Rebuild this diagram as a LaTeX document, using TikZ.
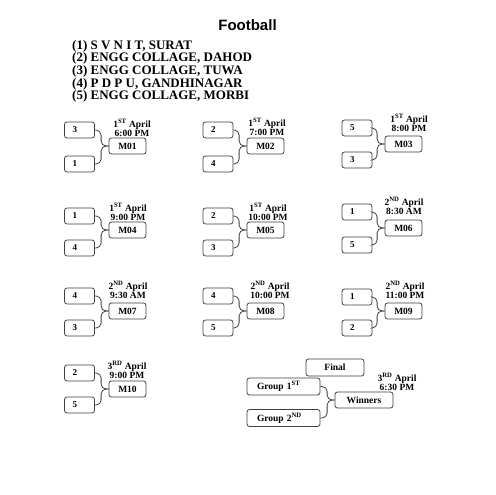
\documentclass[tikz,border=0pt]{standalone}
\usepackage{fontspec}
\setmainfont{Liberation Serif}
\newfontfamily\titlefont{Liberation Sans}
\usetikzlibrary{calc}
\begin{document}
\begin{tikzpicture}[x=1pt,y=-1pt,
  box/.style={draw=black!75, line width=0.8pt, rounded corners=2.5pt, minimum height=16pt, inner ysep=0pt},
  team/.style={box, inner xsep=8pt, text width=14pt, align=left, font=\fontsize{9}{10}\selectfont\bfseries},
  match/.style={box, inner xsep=0pt, minimum width=37pt, font=\fontsize{9.5}{10}\selectfont\bfseries},
  grpbox/.style={box, minimum height=17pt, inner xsep=10pt, text width=53pt, align=left, font=\fontsize{9.5}{10}\selectfont\bfseries},
  finalbox/.style={box, minimum height=17pt, inner xsep=0pt, minimum width=58pt, font=\fontsize{9.5}{10}\selectfont\bfseries},
  date/.style={inner sep=0pt, align=center, font=\fontsize{9.5}{9}\selectfont\bfseries},
  conn/.style={draw=black!75, line width=0.8pt, rounded corners=5pt},
  teamline/.style={anchor=base west, inner sep=0pt, font=\fontsize{13}{13}\selectfont\bfseries}]
\fill[white] (0,0) rectangle (495,495);
\useasboundingbox (0,0) rectangle (495,495);
\node[font=\titlefont\fontsize{15}{15}\selectfont\bfseries] (title) at (247.5,25) {Football};
\node[teamline] (t1) at (72,49) {(1) S V N I T, SURAT};
\node[teamline] (t2) at (72,62) {(2) ENGG COLLAGE, DAHOD};
\node[teamline] (t3) at (72,74.5) {(3) ENGG COLLAGE, TUWA};
\node[teamline] (t4) at (72,87) {(4) P D P U, GANDHINAGAR};
\node[teamline] (t5) at (72,99.5) {(5) ENGG COLLAGE, MORBI};
\foreach \tx/\mx/\ya/\yb/\ym/\ta/\tb/\n/\dx/\dy/\dd/\ds/\dt in {
 79.5/127.5/130/164/146/3/1/01/132/127.5/1/ST/6:00 PM,
 218/265.5/130/164/146/2/4/02/267/127/1/ST/7:00 PM,
 357/403.5/128/160/144/5/3/03/409/122.5/1/ST/8:00 PM,
 79.5/127.5/216/248/230/1/4/04/128/212/1/ST/9:00 PM,
 218/265.5/216/248/230/2/3/05/268/212/1/ST/10:00 PM,
 357/403.5/212/245/228/1/5/06/404/205.5/2/ND/8:30 AM,
 79.5/127.5/296/328/311/4/3/07/128/290/2/ND/9:30 AM,
 218/265.5/296/328/311/4/5/08/270/289.5/2/ND/10:00 PM,
 357/403.5/297/328/311/1/2/09/405/289.5/2/ND/11:00 PM,
 79.5/127.5/373/405/389/2/5/10/127/369.5/3/RD/9:00 PM}
{
 \node[team] (a\n) at (\tx,\ya) {\ta};
 \node[team] (b\n) at (\tx,\yb) {\tb};
 \node[match] (m\n) at (\mx,\ym) {M\n};
 \node[date] (d\n) at (\dx,\dy) {\dd\textsuperscript{\ds} April\\\dt};
 \draw[conn] (a\n.east) -| ([xshift=-7.5pt]m\n.west) -- (m\n.west);
 \draw[conn] (b\n.east) -| ([xshift=-7.5pt]m\n.west) -- (m\n.west);
}
\node[finalbox] (final) at (335,367.5) {Final};
\node[grpbox] (g1) at (283.5,386.5) {Group 1\textsuperscript{ST}};
\node[grpbox] (g2) at (283.5,418) {Group 2\textsuperscript{ND}};
\node[match, minimum width=58pt] (win) at (364,400) {Winners};
\node[date] (fd) at (397,381.5) {3\textsuperscript{RD} April\\6:30 PM};
\draw[conn] (g1.east) -| ([xshift=-7.5pt]win.west) -- (win.west);
\draw[conn] (g2.east) -| ([xshift=-7.5pt]win.west) -- (win.west);
\end{tikzpicture}
\end{document}
